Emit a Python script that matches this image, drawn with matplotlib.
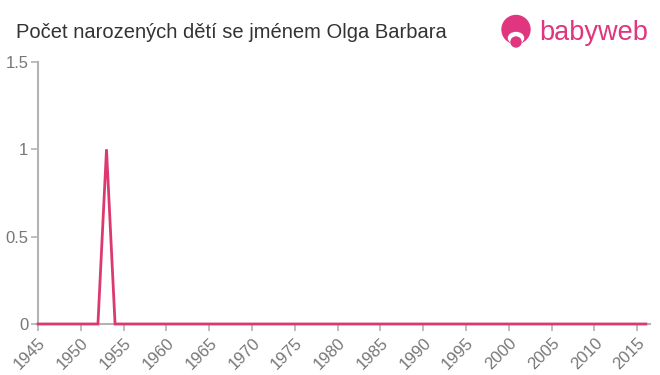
#!/usr/bin/env python3

import matplotlib
matplotlib.use("Agg")
import matplotlib.pyplot as plt
from matplotlib.patches import Circle, Ellipse

# data
years = list(range(1945, 2017))
counts = [0] * len(years)
counts[years.index(1953)] = 1

x_ticks = list(range(1945, 2016, 5))
y_ticks = [0, 0.5, 1, 1.5]
y_tick_labels = ["0", "0.5", "1", "1.5"]

title = "Počet narozených dětí se jménem Olga Barbara"

line_color = "#dc3a6e"
axis_color = "#b3b3b3"
text_color = "#777777"
logo_color = "#e0357f"

plt.rcParams["font.family"] = ["Liberation Sans", "DejaVu Sans"]

fig = plt.figure(figsize=(6.6, 3.75), dpi=100)
ax = fig.add_axes([0.0576, 0.136, 0.9274, 0.699])

ax.plot(years, counts, color=line_color, linewidth=2, solid_joinstyle="miter",
        zorder=3, clip_on=False)

ax.set_xlim(1945, 2016.5)
ax.set_ylim(0, 1.5)
ax.set_xticks(x_ticks)
ax.set_xticklabels([str(y) for y in x_ticks], rotation=45, ha="right",
                   rotation_mode="anchor")
ax.set_yticks(y_ticks)
ax.set_yticklabels(y_tick_labels)

for side in ["top", "right"]:
    ax.spines[side].set_visible(False)
for side in ["left", "bottom"]:
    ax.spines[side].set_color(axis_color)
    ax.spines[side].set_linewidth(1.5)
ax.tick_params(axis="both", colors=axis_color, labelcolor=text_color,
               labelsize=12, length=5, width=1.2)
ax.tick_params(axis="x", pad=3)
ax.tick_params(axis="y", pad=2)

fig.text(16 / 660, 1 - 32 / 375, title, fontsize=14.5, color="#333333",
         va="center", ha="left")

# logo
logo_ax = fig.add_axes([0, 0, 1, 1], facecolor="none")
logo_ax.set_xlim(0, 660)
logo_ax.set_ylim(375, 0)
logo_ax.axis("off")
logo_ax.add_patch(Circle((516, 29.5), 14, color=logo_color))
logo_ax.add_patch(Ellipse((516, 38), 15, 11, color="white"))
logo_ax.add_patch(Circle((516, 42), 5, color=logo_color))
logo_ax.text(539, 33, "babyweb", fontsize=19.5, color=logo_color,
             va="center", ha="left")

fig.savefig("out.png", dpi=100)
